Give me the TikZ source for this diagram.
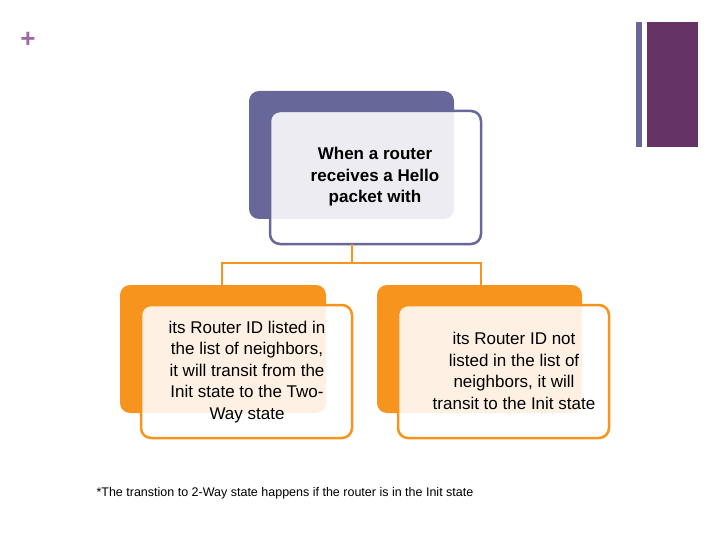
\documentclass[tikz,border=0pt]{standalone}
\usepackage{fontspec}
\setmainfont{Liberation Sans}
\definecolor{pur}{HTML}{67679A}
\definecolor{org}{HTML}{F7941D}
\definecolor{bar}{HTML}{663366}
\definecolor{plus}{HTML}{A066A8}
\begin{document}
\begin{tikzpicture}[x=1pt,y=-1pt,
  backbox/.style={rounded corners=10pt},
  frontbox/.style={rounded corners=10pt,line width=2.5pt,fill=white,fill opacity=0.88,draw opacity=1},
  txt/.style={align=center,font=\fontsize{17}{21.5}\selectfont,text opacity=1},
  conn/.style={draw=org,line width=2.5pt}]
\useasboundingbox (0,0) rectangle (720,540);
\node[text=plus,font=\fontsize{26}{26}\selectfont\bfseries] (plus) at (28,40) {+};
\fill[pur] (636,22) rectangle (642,147);
\fill[bar] (647,22) rectangle (698,147);
% top
\fill[pur,backbox] (249,91) rectangle (454,219);
\draw[pur,frontbox] (270,111) rectangle (481,244);
\node[txt,font=\fontsize{17}{21.5}\selectfont\bfseries] (top) at (375,177) {When a router\\receives a Hello\\packet with};
% children
\fill[org,backbox] (120,285) rectangle (326,413);
\fill[org,backbox] (377,285) rectangle (582,413);
\coordinate (ts) at (352,244);
\coordinate (lc) at (222,285);
\coordinate (rc) at (481,285);
\draw[conn] (ts) -- (352,263) -| (lc);
\draw[conn] (352,263) -| (rc);
\draw[org,frontbox] (141,305) rectangle (352,438);
\draw[org,frontbox] (398,305) rectangle (609,438);
\node[txt] (left) at (247,372) {its Router ID listed in\\the list of neighbors,\\it will transit from the\\Init state to the Two-\\Way state};
\node[txt] (right) at (514,371) {its Router ID not\\listed in the list of\\neighbors, it will\\transit to the Init state};
\node[anchor=west,font=\fontsize{12.5}{14}\selectfont] (note) at (93,493) {*The transtion to 2-Way state happens if the router is in the Init state};
\end{tikzpicture}
\end{document}
